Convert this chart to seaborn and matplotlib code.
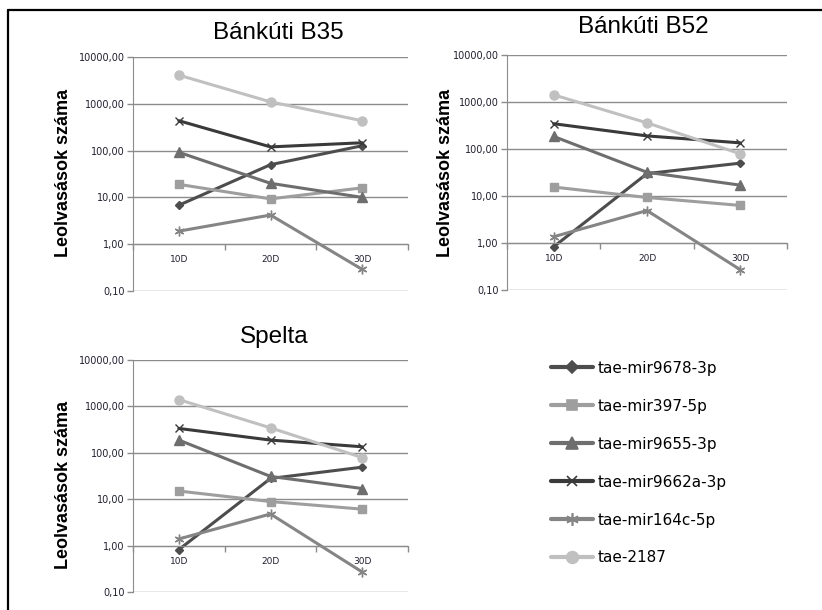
import numpy as np
import pandas as pd
import seaborn as sns
import matplotlib
matplotlib.use("Agg")
from matplotlib import pyplot as plt
from matplotlib.lines import Line2D
from matplotlib.ticker import FixedLocator, FuncFormatter, NullLocator

days = ['10D', '20D', '30D']
series = ['tae-mir9678-3p', 'tae-mir397-5p', 'tae-mir9655-3p',
          'tae-mir9662a-3p', 'tae-mir164c-5p', 'tae-2187']

b35 = {
    'tae-mir9678-3p': [6.8, 50, 127],
    'tae-mir397-5p': [19, 9.3, 16],
    'tae-mir9655-3p': [92, 20, 10],
    'tae-mir9662a-3p': [435, 120, 147],
    'tae-mir164c-5p': [1.9, 4.2, 0.29],
    'tae-2187': [4100, 1100, 435],
}
b52 = {
    'tae-mir9678-3p': [0.83, 30, 50],
    'tae-mir397-5p': [15.5, 9.3, 6.3],
    'tae-mir9655-3p': [185, 32, 17],
    'tae-mir9662a-3p': [345, 190, 135],
    'tae-mir164c-5p': [1.36, 4.9, 0.27],
    'tae-2187': [1420, 360, 79],
}
spelta = {
    'tae-mir9678-3p': [0.82, 28, 49],
    'tae-mir397-5p': [15, 8.9, 6.1],
    'tae-mir9655-3p': [188, 31, 17],
    'tae-mir9662a-3p': [335, 188, 135],
    'tae-mir164c-5p': [1.39, 4.8, 0.27],
    'tae-2187': [1400, 345, 79],
}
titles = ['Bánkúti B35', 'Bánkúti B52', 'Spelta']

# look of each series (grey Excel style)
colors = {'tae-mir9678-3p': '#4d4d4d', 'tae-mir397-5p': '#9e9e9e',
          'tae-mir9655-3p': '#6e6e6e', 'tae-mir9662a-3p': '#3a3a3a',
          'tae-mir164c-5p': '#858585', 'tae-2187': '#c0c0c0'}
markers = {'tae-mir9678-3p': 'D', 'tae-mir397-5p': 's', 'tae-mir9655-3p': '^',
           'tae-mir9662a-3p': 'x', 'tae-mir164c-5p': (6, 2, 0), 'tae-2187': 'o'}
msizes = {'tae-mir9678-3p': 4.5, 'tae-mir397-5p': 6, 'tae-mir9655-3p': 6.5,
          'tae-mir9662a-3p': 6, 'tae-mir164c-5p': 7, 'tae-2187': 6.5}

sns.set_style("white")
plt.rcParams['font.family'] = ['DejaVu Sans']
plt.rcParams['text.color'] = 'black'

fig = plt.figure(figsize=(8.22, 6.10), dpi=100)
W, H = 822, 610
boxes = [(133, 57, 408, 291), (507, 55, 787, 290), (133, 360, 408, 592)]
title_pos = [(278, 33), (643, 27), (274, 337)]
ylab_pos = [(63, 173), (445, 173), (63, 485)]

def fmt(v, pos):
    return f"{v:.2f}".replace('.', ',')

for box, panel, title, tp, yp in zip(boxes, [b35, b52, spelta], titles, title_pos, ylab_pos):
    l, t, r, b = box
    ax = fig.add_axes([l / W, 1 - b / H, (r - l) / W, (b - t) / H])
    for name in series:
        df = pd.DataFrame({'day': days, 'value': panel[name]})
        c = colors[name]
        sns.lineplot(data=df, x='day', y='value', ax=ax, color=c, linewidth=2.2,
                     marker=markers[name], markersize=msizes[name],
                     markeredgecolor=c, markerfacecolor=c, markeredgewidth=1.0,
                     sort=False, legend=False)
    ax.set_yscale('log')
    ax.set_ylim(0.1, 10000)
    ax.set_xlim(-0.5, 2.5)
    ax.yaxis.set_major_locator(FixedLocator([0.1, 1, 10, 100, 1000, 10000]))
    ax.yaxis.set_major_formatter(FuncFormatter(fmt))
    ax.yaxis.set_minor_locator(NullLocator())
    ax.set_xticks([0, 1, 2])
    ax.set_xticklabels(days)
    ax.set_xticks([-0.5, 0.5, 1.5, 2.5], minor=True)
    ax.grid(axis='y', color='#8c8c8c', linewidth=1)
    ax.set_axisbelow(True)
    for s in ['top', 'right']:
        ax.spines[s].set_visible(False)
    ax.spines['bottom'].set_position(('data', 1))
    ax.spines['bottom'].set_color('#8c8c8c')
    ax.spines['left'].set_color('#8c8c8c')
    ax.tick_params(axis='y', which='major', direction='out', length=4, width=1,
                   color='#8c8c8c', labelsize=7, labelcolor='#202030', pad=2, left=True)
    ax.tick_params(axis='x', which='major', length=0, labelsize=6.5,
                   labelcolor='#202030', pad=8)
    ax.tick_params(axis='x', which='minor', direction='out', length=4, width=1,
                   color='#8c8c8c', bottom=True)
    ax.set_xlabel('')
    ax.set_ylabel('')
    fig.text(tp[0] / W, 1 - tp[1] / H, title, ha='center', va='center', color='black',
             fontsize=17.5, family=['Liberation Sans', 'DejaVu Sans'])
    fig.text(yp[0] / W, 1 - yp[1] / H, 'Leolvasások száma', ha='center', va='center',
             rotation=90, fontsize=13, fontweight='bold', color='black',
             family=['Liberation Sans', 'DejaVu Sans'])

handles = [Line2D([], [], color=colors[n], linewidth=3, marker=markers[n],
                  markersize=msizes[n] * 1.3, markeredgecolor=colors[n],
                  markerfacecolor=colors[n], markeredgewidth=1.2) for n in series]
fig.legend(handles, series, loc='upper left', bbox_to_anchor=(0.653, 0.431),
           frameon=False, fontsize=11, handlelength=2.8, handletextpad=0.26,
           labelspacing=1.5, labelcolor='black')

# frame lines of the original screenshot
fig.add_artist(Line2D([8 / W, 1], [1 - 10 / H, 1 - 10 / H], color='black', linewidth=1.6))
fig.add_artist(Line2D([8 / W, 8 / W], [0, 1 - 10 / H], color='black', linewidth=1.6))

fig.savefig('out.png', dpi=100)
